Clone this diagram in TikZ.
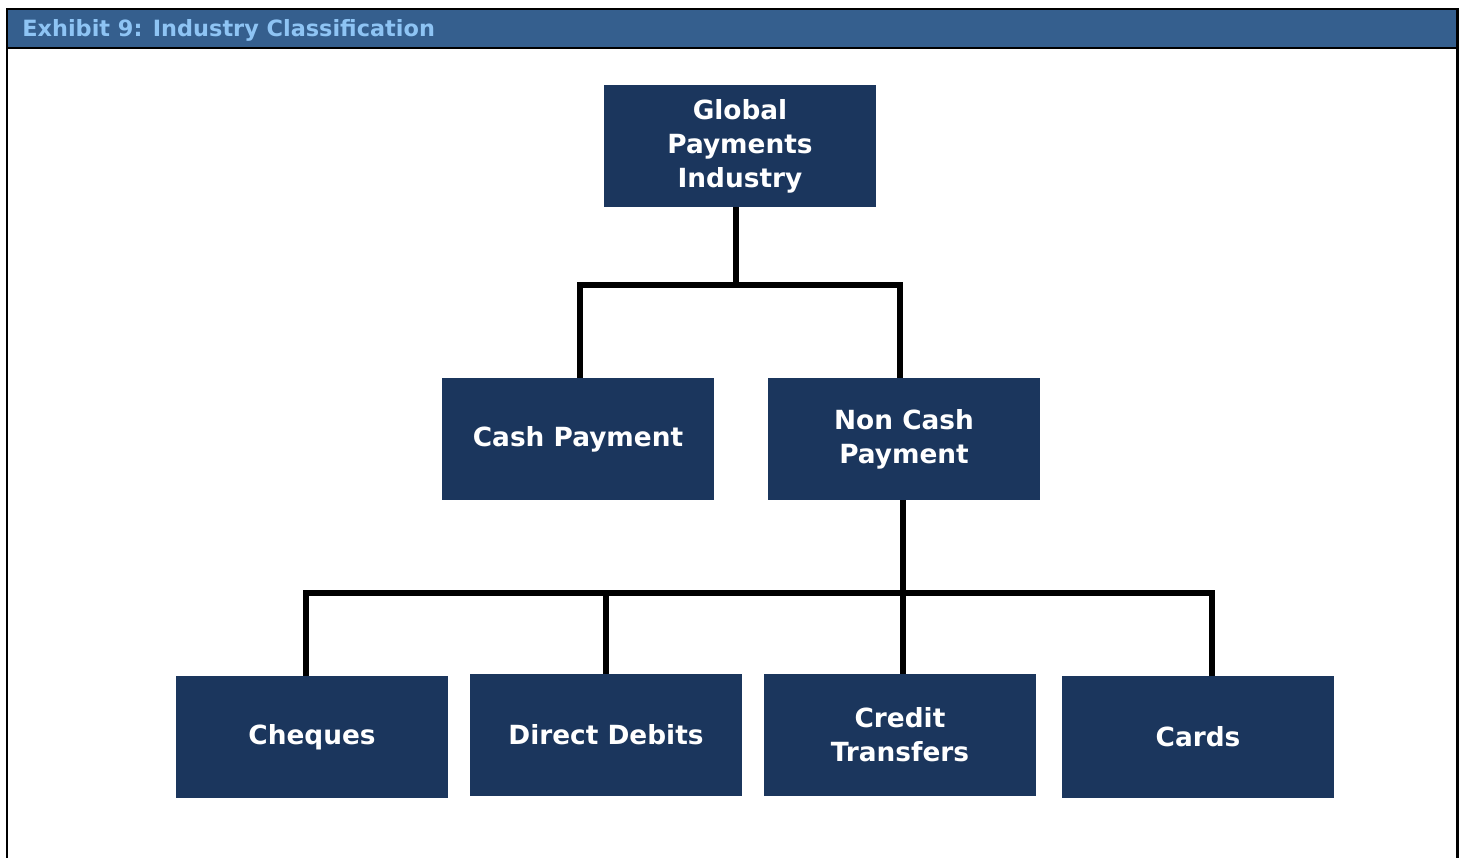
\documentclass[tikz,border=0pt]{standalone}
\usepackage{fontspec}
\setmainfont{DejaVu Sans}
\usetikzlibrary{positioning}

\definecolor{headblue}{HTML}{355F8E}
\definecolor{headtext}{HTML}{8EC4F4}
\definecolor{boxblue}{HTML}{1B365D}

\begin{document}
\begin{tikzpicture}[x=0.02cm, y=-0.02cm,
    catbox/.style={fill=boxblue, text=white, minimum width=5.44cm, minimum height=2.44cm,
      inner sep=0pt, align=center, font=\fontsize{15}{19.3}\selectfont\bfseries},
    branch/.style={line width=3.6pt, line join=miter}]

  \useasboundingbox (0,0) rectangle (1465,858);

  % Header band and frame
  \fill[headblue] (7,9) rectangle (1457,48);
  \draw[line width=1.7pt] (7,858) -- (7,9) -- (1457,9) -- (1457,858);
  \draw[line width=1.2pt] (7,48) -- (1457,48);
  \node[anchor=base west, text=headtext, font=\fontsize{12.75}{15}\selectfont\bfseries, inner sep=0pt]
    (title) at (22,37) {Exhibit 9: Industry Classification};

  % Boxes
  \node[catbox] (global) at (740,146) {Global\\Payments\\Industry};
  \node[catbox] (cash) at (578,439) {Cash Payment};
  \node[catbox] (noncash) at (904,439) {Non Cash\\Payment};
  \node[catbox] (cheques) at (312,737) {Cheques};
  \node[catbox] (debits) at (606,735) {Direct Debits};
  \node[catbox] (credit) at (900,735) {Credit\\Transfers};
  \node[catbox] (cards) at (1198,737) {Cards};

  % Branches
  \coordinate (busA) at (736,285);
  \coordinate (busB) at (903,593);
  \draw[branch] (busA |- global.south) -- (busA);
  \draw[branch] (busA) -| ([xshift=0.04cm]cash.north);
  \draw[branch] (busA) -| ([xshift=-0.08cm]noncash.north);
  \draw[branch] (busB |- noncash.south) -- (busB);
  \draw[branch] (busB) -| ([xshift=-0.12cm]cheques.north);
  \draw[branch] (busB) -| (debits.north);
  \draw[branch] (busB) -| ([xshift=0.06cm]credit.north);
  \draw[branch] (busB) -| ([xshift=0.28cm]cards.north);

\end{tikzpicture}
\end{document}
